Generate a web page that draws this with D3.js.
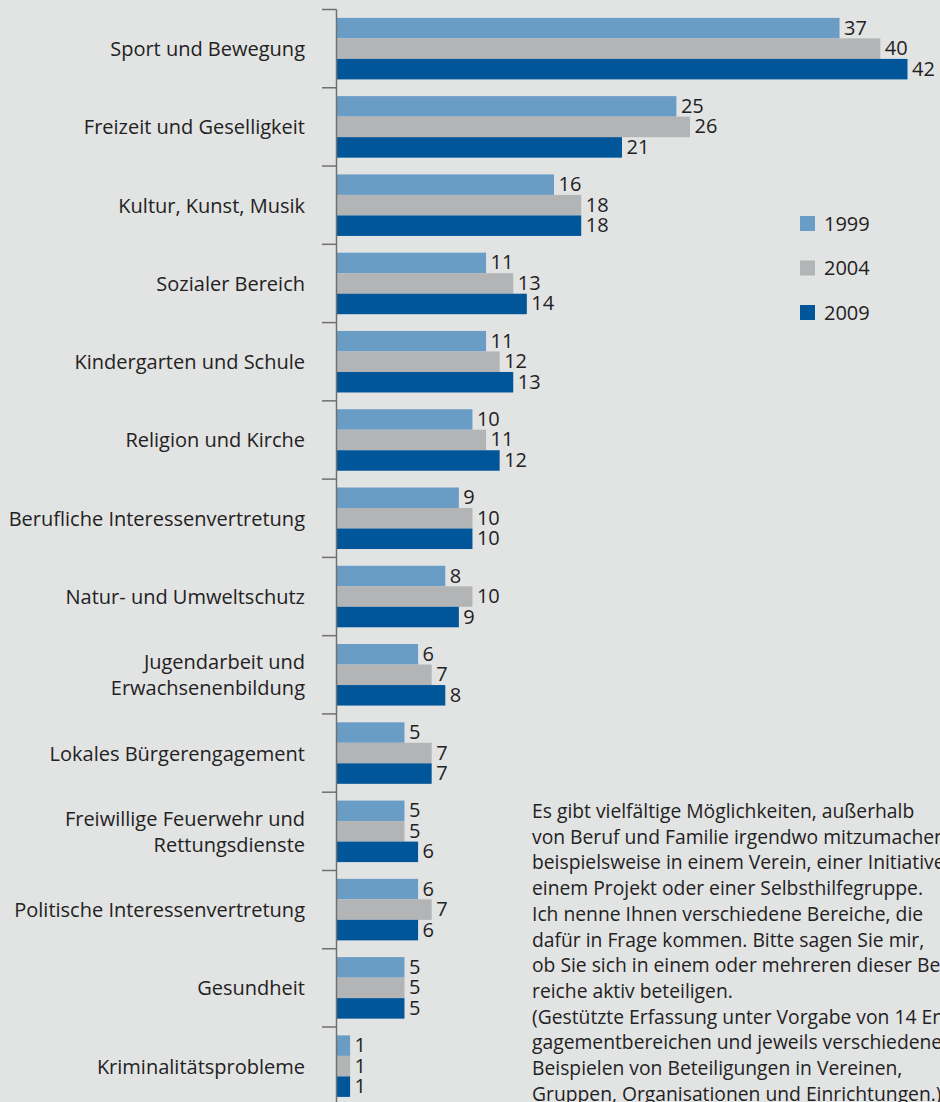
<!DOCTYPE html>
<html>
<head>
<meta charset="utf-8">
<script src="https://cdn.jsdelivr.net/npm/d3@7"></script>
<style>
  html, body { margin: 0; padding: 0; background: #e2e3e3; }
  svg { display: block; font-family: "Open Sans", "Noto Sans", sans-serif; }
</style>
</head>
<body>
<svg id="chart" width="940" height="1102"></svg>
<script>
// categories (top to bottom), labels may wrap on two lines
const CATEGORIES = [
  ['Sport und Bewegung'],
  ['Freizeit und Geselligkeit'],
  ['Kultur, Kunst, Musik'],
  ['Sozialer Bereich'],
  ['Kindergarten und Schule'],
  ['Religion und Kirche'],
  ['Berufliche Interessenvertretung'],
  ['Natur- und Umweltschutz'],
  ['Jugendarbeit und', 'Erwachsenenbildung'],
  ['Lokales Bürgerengagement'],
  ['Freiwillige Feuerwehr und', 'Rettungsdienste'],
  ['Politische Interessenvertretung'],
  ['Gesundheit'],
  ['Kriminalitätsprobleme']
];

const YEARS = ['1999', '2004', '2009'];
const COLORS = ['#6a9dc6', '#b3b4b5', '#005699'];

const V1999 = [37, 25, 16, 11, 11, 10, 9, 8, 6, 5, 5, 6, 5, 1];
const V2004 = [40, 26, 18, 13, 12, 11, 10, 10, 7, 7, 5, 7, 5, 1];
const V2009 = [42, 21, 18, 14, 13, 12, 10, 9, 8, 7, 6, 6, 5, 1];
const SERIES = [V1999, V2004, V2009];

const NOTE = [
  'Es gibt vielfältige Möglichkeiten, außerhalb',
  'von Beruf und Familie irgendwo mitzumachen,',
  'beispielsweise in einem Verein, einer Initiative,',
  'einem Projekt oder einer Selbsthilfegruppe.',
  'Ich nenne Ihnen verschiedene Bereiche, die',
  'dafür in Frage kommen. Bitte sagen Sie mir,',
  'ob Sie sich in einem oder mehreren dieser Be-',
  'reiche aktiv beteiligen.',
  '(Gestützte Erfassung unter Vorgabe von 14 En-',
  'gagementbereichen und jeweils verschiedenen',
  'Beispielen von Beteiligungen in Vereinen,',
  'Gruppen, Organisationen und Einrichtungen.)'
];

const svg = d3.select('#chart');
const x0 = 336.5;
const n = CATEGORIES.length;
const step = 78.27;

const x = d3.scaleLinear().domain([0, 42]).range([x0, 907.5]);
const y = d3.scaleBand()
  .domain(d3.range(n))
  .range([9.5, 9.5 + step * n])
  .paddingInner(0.214)
  .paddingOuter(0.107);
const ySub = d3.scaleBand().domain(YEARS).range([0, y.bandwidth()]);

// bars
const groups = svg.append('g').selectAll('g')
  .data(d3.range(n))
  .join('g')
  .attr('transform', i => `translate(0,${y(i)})`);

YEARS.forEach((yr, s) => {
  groups.append('rect')
    .attr('x', x(0) + 0.5)
    .attr('y', ySub(yr))
    .attr('width', i => x(SERIES[s][i]) - x(0) - 0.5)
    .attr('height', ySub.bandwidth())
    .attr('fill', COLORS[s]);
  groups.append('text')
    .attr('x', i => x(SERIES[s][i]) + 4.5)
    .attr('y', ySub(yr) + ySub.bandwidth() / 2 + 6.5)
    .attr('font-size', 20)
    .attr('fill', '#222')
    .text(i => SERIES[s][i]);
});

// axis line + ticks at band boundaries
svg.append('line')
  .attr('x1', x0).attr('x2', x0)
  .attr('y1', 9.5).attr('y2', 1102)
  .attr('stroke', '#707070').attr('stroke-width', 1.5);
svg.append('g').selectAll('line')
  .data(d3.range(n + 1))
  .join('line')
  .attr('x1', 322).attr('x2', x0)
  .attr('y1', i => 9.5 + i * step).attr('y2', i => 9.5 + i * step)
  .attr('stroke', '#707070').attr('stroke-width', 1.5);

// category labels
svg.append('g').selectAll('text')
  .data(CATEGORIES)
  .join('text')
  .attr('text-anchor', 'end')
  .attr('font-size', 20)
  .attr('fill', '#222')
  .each(function (lines, i) {
    const cy = 9.5 + (i + 0.5) * step;
    const t = d3.select(this);
    lines.forEach((ln, k) => {
      t.append('tspan')
        .attr('x', 305)
        .attr('y', cy + 7.5 + (k - (lines.length - 1) / 2) * 26)
        .text(ln);
    });
  });

// legend
const leg = svg.append('g').selectAll('g')
  .data(YEARS)
  .join('g')
  .attr('transform', (d, i) => `translate(800,${216 + i * 44.5})`);
leg.append('rect')
  .attr('width', 15).attr('height', 15)
  .attr('fill', (d, i) => COLORS[i]);
leg.append('text')
  .attr('x', 24).attr('y', 14.5)
  .attr('font-size', 20)
  .attr('fill', '#222')
  .text(d => d);

// note text
svg.append('text')
  .attr('font-size', 19.3)
  .attr('fill', '#222')
  .selectAll('tspan')
  .data(NOTE)
  .join('tspan')
  .attr('x', 532)
  .attr('y', (d, i) => 818 + i * 25.7)
  .text(d => d);
</script>
</body>
</html>
